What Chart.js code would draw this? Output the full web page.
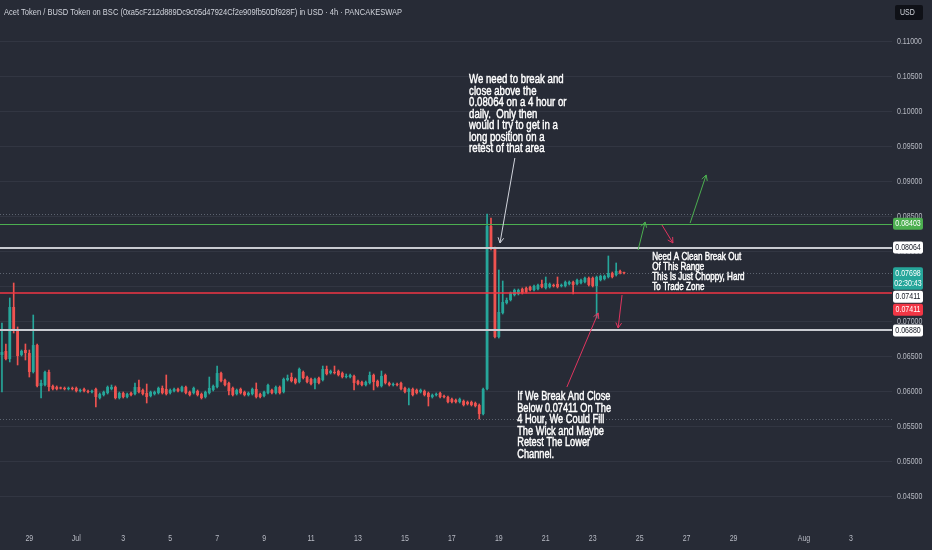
<!DOCTYPE html>
<html lang="en">
<head>
<meta charset="UTF-8" />
<title>Acet Token / BUSD 4h</title>
<style>
  html, body { margin: 0; padding: 0; background: #272b36; overflow: hidden; }
  #wrap { position: relative; width: 932px; height: 550px; }
</style>
<script src="https://cdn.jsdelivr.net/npm/chart.js"></script>
</head>
<body>
<div id="wrap"><canvas id="chart"></canvas></div>

<script>
  const title = 'Acet Token / BUSD Token on BSC (0xa5cF212d889Dc9c05d47924Cf2e909fb50Df928F) in USD \u00b7 4h \u00b7 PANCAKESWAP';

  // 4h candles, the first one opens Jun 27 20:00
  const opens = [
    0.06529, 0.06586, 0.06471, 0.07214, 0.06886, 0.06529, 0.06600, 0.06557, 0.06286, 0.06671,
    0.06086, 0.06100, 0.06286, 0.06086, 0.06071, 0.06057, 0.06050, 0.06043, 0.06057, 0.06057,
    0.06014, 0.06043, 0.06014, 0.06000, 0.06043, 0.05914, 0.05957, 0.05986, 0.06043, 0.06071,
    0.05914, 0.05986, 0.05929, 0.05986, 0.05971, 0.06071, 0.06029, 0.05986, 0.05943, 0.05971,
    0.05986, 0.06057, 0.06043, 0.05986, 0.06014, 0.06043, 0.06014, 0.06071, 0.06000, 0.05986,
    0.06014, 0.05971, 0.05929, 0.05986, 0.06029, 0.06071, 0.06271, 0.06171, 0.06129, 0.06057,
    0.05971, 0.06043, 0.06000, 0.05957, 0.05971, 0.06043, 0.05971, 0.05943, 0.05986, 0.06029,
    0.05986, 0.06071, 0.06000, 0.06171, 0.06214, 0.06186, 0.06143, 0.06286, 0.06214, 0.06186,
    0.06129, 0.06200, 0.06171, 0.06329, 0.06271, 0.06286, 0.06300, 0.06271, 0.06214, 0.06214,
    0.06229, 0.06157, 0.06143, 0.06100, 0.06129, 0.06243, 0.06157, 0.06086, 0.06243, 0.06129,
    0.06100, 0.06114, 0.06129, 0.06057, 0.06000, 0.06043, 0.06029, 0.06000, 0.06014, 0.05986,
    0.05929, 0.05957, 0.05986, 0.05943, 0.05929, 0.05900, 0.05886, 0.05857, 0.05871, 0.05857,
    0.05857, 0.05843, 0.05814, 0.05686, 0.06043, 0.08371, 0.08057, 0.06786, 0.07129, 0.07271,
    0.07314, 0.07386, 0.07400, 0.07471, 0.07486, 0.07500, 0.07457, 0.07471, 0.07543, 0.07486,
    0.07500, 0.07529, 0.07543, 0.07514, 0.07514, 0.07543, 0.07571, 0.07543, 0.07557, 0.07571,
    0.07629, 0.07629, 0.07514, 0.07600, 0.07614, 0.07643, 0.07700, 0.07671, 0.07729, 0.07700
  ];
  const highs = [
    0.06986, 0.06686, 0.07343, 0.07557, 0.06929, 0.06600, 0.06686, 0.06600, 0.07100, 0.06686,
    0.06171, 0.06300, 0.06314, 0.06100, 0.06086, 0.06071, 0.06071, 0.06071, 0.06071, 0.06071,
    0.06043, 0.06057, 0.06029, 0.06029, 0.06057, 0.05986, 0.06014, 0.06086, 0.06100, 0.06086,
    0.06000, 0.06000, 0.05986, 0.06000, 0.06129, 0.06171, 0.06043, 0.06114, 0.06014, 0.06014,
    0.06071, 0.06086, 0.06243, 0.06043, 0.06057, 0.06057, 0.06086, 0.06086, 0.06014, 0.06071,
    0.06029, 0.05986, 0.06014, 0.06214, 0.06100, 0.06371, 0.06286, 0.06186, 0.06143, 0.06071,
    0.06043, 0.06057, 0.06014, 0.06000, 0.06057, 0.06129, 0.05986, 0.06014, 0.06114, 0.06043,
    0.06086, 0.06086, 0.06200, 0.06243, 0.06271, 0.06200, 0.06343, 0.06300, 0.06229, 0.06200,
    0.06200, 0.06214, 0.06371, 0.06371, 0.06314, 0.06371, 0.06314, 0.06286, 0.06257, 0.06257,
    0.06243, 0.06171, 0.06157, 0.06157, 0.06286, 0.06257, 0.06171, 0.06300, 0.06257, 0.06143,
    0.06129, 0.06129, 0.06143, 0.06071, 0.06057, 0.06057, 0.06043, 0.06043, 0.06029, 0.06000,
    0.05971, 0.05986, 0.06000, 0.05957, 0.05943, 0.05914, 0.05900, 0.05914, 0.05886, 0.05871,
    0.05871, 0.05857, 0.05829, 0.06057, 0.08543, 0.08486, 0.08071, 0.07743, 0.07586, 0.07343,
    0.07429, 0.07471, 0.07471, 0.07486, 0.07500, 0.07514, 0.07529, 0.07543, 0.07600, 0.07643,
    0.07557, 0.07543, 0.07643, 0.07543, 0.07586, 0.07586, 0.07586, 0.07614, 0.07614, 0.07643,
    0.07643, 0.07643, 0.07657, 0.07671, 0.07671, 0.07943, 0.07714, 0.07843, 0.07743, 0.07714
  ];
  const lows = [
    0.06000, 0.06457, 0.06429, 0.06843, 0.06386, 0.06514, 0.06457, 0.06214, 0.06271, 0.06071,
    0.05914, 0.06086, 0.06014, 0.06029, 0.06029, 0.06043, 0.06029, 0.06029, 0.06029, 0.06000,
    0.06000, 0.06000, 0.05986, 0.05986, 0.05786, 0.05900, 0.05943, 0.05971, 0.06029, 0.05900,
    0.05900, 0.05914, 0.05914, 0.05943, 0.05957, 0.05986, 0.05957, 0.05843, 0.05929, 0.05957,
    0.05971, 0.05971, 0.05957, 0.05971, 0.06000, 0.06000, 0.06000, 0.05971, 0.05943, 0.05971,
    0.05943, 0.05900, 0.05914, 0.05971, 0.06014, 0.06057, 0.06143, 0.06086, 0.05957, 0.05943,
    0.05957, 0.05971, 0.05943, 0.05943, 0.05957, 0.05914, 0.05914, 0.05929, 0.05971, 0.05971,
    0.05971, 0.05971, 0.05986, 0.06157, 0.06143, 0.06114, 0.06129, 0.06186, 0.06129, 0.06100,
    0.06043, 0.06114, 0.06157, 0.06243, 0.06257, 0.06257, 0.06229, 0.06200, 0.06200, 0.06200,
    0.06029, 0.06100, 0.06086, 0.06086, 0.06114, 0.06029, 0.06071, 0.06071, 0.06114, 0.06086,
    0.06086, 0.06086, 0.06029, 0.05986, 0.05814, 0.05943, 0.05971, 0.05986, 0.05943, 0.05800,
    0.05914, 0.05943, 0.05914, 0.05914, 0.05843, 0.05843, 0.05843, 0.05843, 0.05800, 0.05814,
    0.05800, 0.05786, 0.05614, 0.05671, 0.06029, 0.08029, 0.06771, 0.06771, 0.07114, 0.07257,
    0.07300, 0.07371, 0.07386, 0.07400, 0.07414, 0.07443, 0.07443, 0.07457, 0.07486, 0.07471,
    0.07486, 0.07500, 0.07486, 0.07500, 0.07500, 0.07529, 0.07400, 0.07529, 0.07543, 0.07557,
    0.07514, 0.07500, 0.07057, 0.07586, 0.07600, 0.07629, 0.07629, 0.07657, 0.07686, 0.07686
  ];
  const closes = [
    0.06571, 0.06471, 0.07214, 0.06886, 0.06514, 0.06586, 0.06557, 0.06286, 0.06671, 0.06086,
    0.06129, 0.06286, 0.06071, 0.06043, 0.06043, 0.06050, 0.06043, 0.06057, 0.06043, 0.06014,
    0.06029, 0.06014, 0.06000, 0.06014, 0.05929, 0.05971, 0.06000, 0.06071, 0.06071, 0.05914,
    0.05986, 0.05929, 0.05971, 0.05957, 0.06071, 0.06000, 0.05971, 0.05929, 0.06000, 0.06000,
    0.06057, 0.05986, 0.05971, 0.06029, 0.06043, 0.06014, 0.06071, 0.05986, 0.05957, 0.06057,
    0.05957, 0.05914, 0.06000, 0.06057, 0.06086, 0.06271, 0.06157, 0.06100, 0.06014, 0.05957,
    0.06029, 0.05986, 0.05957, 0.05986, 0.06043, 0.05929, 0.05929, 0.06000, 0.06100, 0.05986,
    0.06071, 0.05986, 0.06186, 0.06200, 0.06157, 0.06129, 0.06329, 0.06200, 0.06143, 0.06114,
    0.06186, 0.06129, 0.06329, 0.06257, 0.06300, 0.06271, 0.06243, 0.06214, 0.06229, 0.06243,
    0.06129, 0.06114, 0.06100, 0.06143, 0.06243, 0.06143, 0.06086, 0.06229, 0.06129, 0.06100,
    0.06114, 0.06100, 0.06043, 0.06000, 0.06043, 0.05957, 0.05986, 0.06029, 0.05957, 0.05929,
    0.05957, 0.05971, 0.05929, 0.05929, 0.05857, 0.05857, 0.05857, 0.05900, 0.05814, 0.05829,
    0.05814, 0.05800, 0.05686, 0.06043, 0.08371, 0.08043, 0.06786, 0.07143, 0.07286, 0.07314,
    0.07414, 0.07457, 0.07457, 0.07414, 0.07429, 0.07457, 0.07514, 0.07529, 0.07500, 0.07557,
    0.07543, 0.07514, 0.07500, 0.07529, 0.07571, 0.07571, 0.07529, 0.07600, 0.07600, 0.07629,
    0.07529, 0.07514, 0.07643, 0.07657, 0.07657, 0.07700, 0.07643, 0.07729, 0.07700, 0.07698
  ];

  // horizontal levels drawn on the chart
  const levelPrices = [0.08403, 0.08064, 0.07411, 0.06880];
  const lastPrice = 0.07698;
  const countdown = '02:30:43';

  // bottom axis labels (date of the 00:00 bar -> text)
  const xTickDays = ['06-29', '07-01', '07-03', '07-05', '07-07', '07-09', '07-11', '07-13', '07-15',
                     '07-17', '07-19', '07-21', '07-23', '07-25', '07-27', '07-29', '08-01', '08-03'];
  const xTickText = ['29', 'Jul', '3', '5', '7', '9', '11', '13', '15',
                     '17', '19', '21', '23', '25', '27', '29', 'Aug', '3'];

  const noteUpper = ['We need to break and', 'close above the', '0.08064 on a 4 hour or',
                     'daily.  Only then', 'would I try to get in a', 'long position on a',
                     'retest of that area'];
  const noteRange = ['Need A Clean Break Out', 'Of This Range', 'This Is Just Choppy, Hard', 'To Trade Zone'];
  const noteLower = ['If We Break And Close', 'Below 0.07411 On The', '4 Hour, We Could Fill',
                     'The Wick and Maybe', 'Retest The Lower', 'Channel.'];

  // ---------------------------------------------------------------
  const SLOTS = 228;
  const UP = '#26a69a', DOWN = '#ef5350';
  const BG = '#272b36', GRID = '#323642', TXT = '#b8bbc4';
  const FONT = '"Liberation Sans", Arial, sans-serif';
  const SQUEEZE = 0.78;   // narrow look of the TradingView labels

  const slotLabels = [];
  const t0 = Date.UTC(2022, 5, 27, 20);
  for (let i = 0; i < SLOTS; i++) {
    const d = new Date(t0 + i * 4 * 3600 * 1000);
    const p2 = n => String(n).padStart(2, '0');
    slotLabels.push(p2(d.getUTCMonth() + 1) + '-' + p2(d.getUTCDate()) + ' ' + p2(d.getUTCHours()));
  }

  const colors = closes.map((c, i) => c >= opens[i] ? UP : DOWN);
  const bodies = opens.map((o, i) => [o, closes[i]]);
  const wicks = lows.map((l, i) => [l, highs[i]]);

  const isStep = v => Math.abs(v / 0.005 - Math.round(v / 0.005)) < 1e-6;

  // notes and arrows, anchored in (bar index, price)
  const notes = [
    { lines: noteUpper, at: [119.4, 0.10457], size: 12.5, lh: 11.5 },
    { lines: noteRange, at: [166.2, 0.07929], size: 10.5, lh: 10 },
    { lines: noteLower, at: [131.7, 0.05929], size: 12, lh: 11.5 }
  ];
  const arrows = [
    { from: [131.1, 0.09343], to: [127.3, 0.08129], color: '#d1d4dc' },
    { from: [144.4, 0.06071], to: [152.4, 0.07129], color: '#e0355f' },
    { from: [158.5, 0.07386], to: [157.5, 0.06914], color: '#e0355f' },
    { from: [162.6, 0.08029], to: [164.4, 0.08429], color: '#4caf50' },
    { from: [168.7, 0.08386], to: [171.5, 0.08129], color: '#e0355f' },
    { from: [175.9, 0.08414], to: [180.0, 0.09100], color: '#4caf50' }
  ];
  const levelStyle = [
    { color: '#4caf50', width: 1, box: '#4caf50', fg: '#ffffff' },
    { color: '#c9cbd1', width: 2, box: '#ffffff', fg: '#131722' },
    { color: '#f23645', width: 1.6, box: '#ffffff', fg: '#131722' },
    { color: '#c9cbd1', width: 2, box: '#ffffff', fg: '#131722' }
  ];

  function narrow(ctx, text, x, y, sx, stroke) {
    ctx.save();
    ctx.translate(x, y);
    ctx.scale(sx, 1);
    if (stroke) {
      ctx.lineWidth = stroke;
      ctx.strokeStyle = ctx.fillStyle;
      ctx.strokeText(text, 0, 0);
    }
    ctx.fillText(text, 0, 0);
    ctx.restore();
  }

  function drawArrow(ctx, x1, y1, x2, y2, color) {
    ctx.strokeStyle = color;
    ctx.lineWidth = 1;
    ctx.beginPath(); ctx.moveTo(x1, y1); ctx.lineTo(x2, y2); ctx.stroke();
    const a = Math.atan2(y2 - y1, x2 - x1), h = 6;
    ctx.beginPath();
    ctx.moveTo(x2 - h * Math.cos(a - 0.5), y2 - h * Math.sin(a - 0.5));
    ctx.lineTo(x2, y2);
    ctx.lineTo(x2 - h * Math.cos(a + 0.5), y2 - h * Math.sin(a + 0.5));
    ctx.stroke();
  }

  function hline(ctx, area, py, color, width, dash) {
    ctx.save();
    ctx.strokeStyle = color;
    ctx.lineWidth = width;
    ctx.setLineDash(dash || []);
    ctx.beginPath();
    ctx.moveTo(area.left, py);
    ctx.lineTo(area.right, py);
    ctx.stroke();
    ctx.restore();
  }

  const overlay = {
    id: 'overlay',
    beforeDraw(chart) {
      const { ctx, width, height } = chart;
      ctx.save();
      ctx.fillStyle = BG;
      ctx.fillRect(0, 0, width, height);
      ctx.restore();
    },
    beforeDatasetsDraw(chart) {
      const { ctx, chartArea: a, scales: { y } } = chart;
      const dot = '#5d6470';
      hline(ctx, a, Math.round(y.getPixelForValue(Math.max(...highs))) + 0.5, dot, 1, [1, 2]);
      hline(ctx, a, Math.round(y.getPixelForValue(Math.min(...lows))) + 0.5, dot, 1, [1, 2]);
      hline(ctx, a, Math.round(y.getPixelForValue(lastPrice)) + 0.5, dot, 1, [1, 2]);
    },
    afterDatasetsDraw(chart) {
      const { ctx, chartArea: a, scales: { x, y } } = chart;
      levelPrices.forEach((p, i) => {
        const s = levelStyle[i];
        const py = Math.round(y.getPixelForValue(p)) + (s.width === 1 ? 0.5 : 0);
        hline(ctx, a, py, s.color, s.width);
      });
      ctx.save();
      arrows.forEach(ar => {
        drawArrow(ctx, x.getPixelForValue(ar.from[0]), y.getPixelForValue(ar.from[1]),
                  x.getPixelForValue(ar.to[0]), y.getPixelForValue(ar.to[1]), ar.color);
      });
      ctx.fillStyle = '#ffffff';
      ctx.textAlign = 'left';
      ctx.textBaseline = 'middle';
      notes.forEach(n => {
        ctx.font = n.size + 'px ' + FONT;
        const px = x.getPixelForValue(n.at[0]);
        const py = y.getPixelForValue(n.at[1]);
        n.lines.forEach((line, k) => narrow(ctx, line, px, py + k * n.lh, 0.77, 0.45));
      });
      ctx.restore();
    },
    afterDraw(chart) {
      const { ctx, chartArea: a, scales: { x, y } } = chart;
      ctx.save();
      ctx.textBaseline = 'middle';

      // axis labels, taken from the scales' own ticks
      ctx.font = '9px ' + FONT;
      ctx.fillStyle = TXT;
      ctx.textAlign = 'left';
      y.ticks.forEach((t, i) => {
        if (t.label) narrow(ctx, t.label, a.right + 5, y.getPixelForTick(i), SQUEEZE);
      });
      ctx.textAlign = 'center';
      x.ticks.forEach((t, i) => {
        if (t.label) narrow(ctx, t.label, x.getPixelForTick(i), a.bottom + 11, SQUEEZE);
      });

      // legend strip
      ctx.fillStyle = BG;
      ctx.fillRect(0, 0, 400, 20);
      ctx.fillStyle = '#d1d4dc';
      ctx.font = '9.5px ' + FONT;
      ctx.textAlign = 'left';
      narrow(ctx, title, 4, 12, 0.79);

      // price labels on the scale
      const fmt = v => v.toFixed(5);
      const boxes = [
        { p: levelPrices[0], bg: levelStyle[0].box, fg: levelStyle[0].fg, lines: [fmt(levelPrices[0])] },
        { p: levelPrices[1], bg: levelStyle[1].box, fg: levelStyle[1].fg, lines: [fmt(levelPrices[1])] },
        { p: lastPrice, bg: UP, fg: '#ffffff', lines: [fmt(lastPrice), countdown] },
        { p: levelPrices[2], bg: levelStyle[2].box, fg: levelStyle[2].fg, lines: [fmt(levelPrices[2])] },
        { p: levelPrices[2], bg: levelStyle[2].color, fg: '#ffffff', lines: [fmt(levelPrices[2])] },
        { p: levelPrices[3], bg: levelStyle[3].box, fg: levelStyle[3].fg, lines: [fmt(levelPrices[3])] }
      ];
      const bx = a.right + 1, bw = 30, lh = 10.5;
      let prevBottom = -Infinity;
      ctx.font = '9px ' + FONT;
      ctx.textAlign = 'center';
      boxes.forEach(b => {
        const h = b.lines.length * lh + 1.5;
        let top = y.getPixelForValue(b.p) - 6;
        if (top < prevBottom + 1) top = prevBottom + 1;
        ctx.fillStyle = b.bg;
        ctx.beginPath();
        ctx.roundRect(bx, top, bw, h, 2);
        ctx.fill();
        ctx.fillStyle = b.fg;
        b.lines.forEach((t, k) => narrow(ctx, t, bx + bw / 2, top + 6.2 + k * lh, SQUEEZE));
        prevBottom = top + h;
      });

      // currency badge
      ctx.fillStyle = '#0f1117';
      ctx.beginPath();
      ctx.roundRect(a.right + 3, 5, 28, 15, 2);
      ctx.fill();
      ctx.fillStyle = '#d1d4dc';
      ctx.textAlign = 'left';
      narrow(ctx, 'USD', a.right + 8, 12.5, SQUEEZE);
      ctx.restore();
    }
  };

  new Chart(document.getElementById('chart'), {
    type: 'bar',
    data: {
      labels: slotLabels,
      datasets: [
        {
          label: 'body',
          data: bodies,
          backgroundColor: colors,
          borderWidth: 0,
          grouped: false,
          categoryPercentage: 1,
          barPercentage: 0.72,
          minBarLength: 1,
          order: 0
        },
        {
          label: 'wick',
          data: wicks,
          backgroundColor: colors,
          borderWidth: 0,
          grouped: false,
          barThickness: 1,
          minBarLength: 1,
          order: 1
        }
      ]
    },
    options: {
      responsive: true,
      maintainAspectRatio: false,
      animation: false,
      events: [],
      layout: { padding: 0 },
      plugins: {
        legend: { display: false },
        tooltip: { enabled: false }
      },
      scales: {
        x: {
          offset: true,
          grid: { display: false, drawTicks: false },
          border: { display: false },
          ticks: {
            display: false,
            autoSkip: false,
            callback(value) {
              const lab = this.getLabelForValue(value);
              if (!lab.endsWith(' 00')) return '';
              const k = xTickDays.indexOf(lab.slice(0, 5));
              return k >= 0 ? xTickText[k] : '';
            }
          },
          afterFit(scale) {
            scale.height = 22;
            scale.paddingLeft = 0;
            scale.paddingRight = 0;
          }
        },
        y: {
          position: 'right',
          min: 0.040571,
          max: 0.116,
          grid: {
            drawTicks: false,
            color: c => (c.tick && isStep(c.tick.value)) ? GRID : 'rgba(0,0,0,0)'
          },
          border: { display: false },
          ticks: {
            display: false,
            stepSize: 0.005,
            callback: v => isStep(v) ? v.toFixed(5) : ''
          },
          afterFit(scale) {
            scale.width = 40;
            scale.paddingTop = 0;
            scale.paddingBottom = 0;
          }
        }
      }
    },
    plugins: [overlay]
  });
</script>

</body>
</html>
